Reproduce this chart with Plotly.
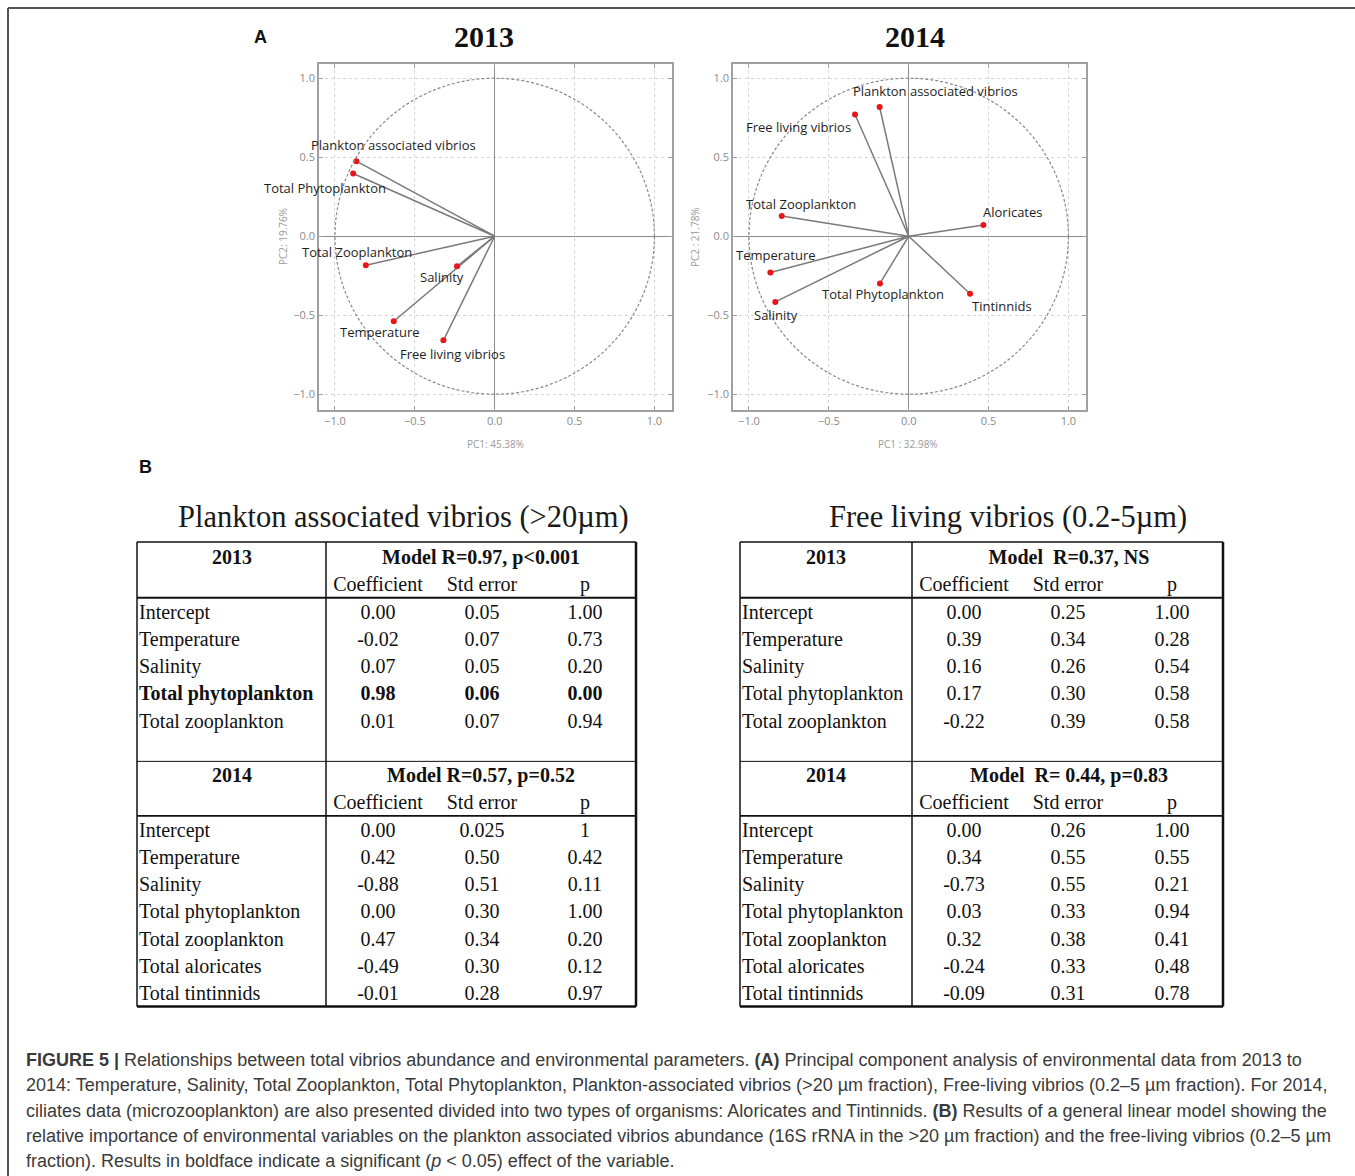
import plotly.graph_objects as go

W, H = 1355, 1176

# ---------------- data: PCA loadings (panel A) ----------------
pca_years = ["2013", "2014"]
pc1_titles = ["PC1: 45.38%", "PC1 : 32.98%"]
pc2_titles = ["PC2: 19.76%", "PC2 : 21.78%"]
pca_ticks = [-1.0, -0.5, 0.0, 0.5, 1.0]

pca13_vars = ["Plankton associated vibrios", "Total Phytoplankton", "Total Zooplankton",
              "Salinity", "Temperature", "Free living vibrios"]
pca13_pc1 = [-0.866, -0.886, -0.807, -0.236, -0.632, -0.321]
pca13_pc2 = [0.475, 0.397, -0.184, -0.190, -0.538, -0.659]

pca14_vars = ["Plankton associated vibrios", "Free living vibrios", "Total Zooplankton", "Aloricates",
              "Temperature", "Salinity", "Total Phytoplankton", "Tintinnids"]
pca14_pc1 = [-0.182, -0.336, -0.795, 0.468, -0.866, -0.835, -0.180, 0.384]
pca14_pc2 = [0.818, 0.770, 0.128, 0.071, -0.230, -0.416, -0.299, -0.364]

# ---------------- data: GLM tables (panel B) ----------------
tbl_cols = ["Coefficient", "Std error", "p"]
rows_2013 = ["Intercept", "Temperature", "Salinity", "Total phytoplankton", "Total zooplankton"]
rows_2014 = ["Intercept", "Temperature", "Salinity", "Total phytoplankton", "Total zooplankton",
             "Total aloricates", "Total tintinnids"]

pav_title = "Plankton associated vibrios (&gt;20µm)"
pav_model_2013 = "Model R=0.97, p&lt;0.001"
pav_coef_2013 = ["0.00", "-0.02", "0.07", "0.98", "0.01"]
pav_se_2013 = ["0.05", "0.07", "0.05", "0.06", "0.07"]
pav_p_2013 = ["1.00", "0.73", "0.20", "0.00", "0.94"]
pav_model_2014 = "Model R=0.57, p=0.52"
pav_coef_2014 = ["0.00", "0.42", "-0.88", "0.00", "0.47", "-0.49", "-0.01"]
pav_se_2014 = ["0.025", "0.50", "0.51", "0.30", "0.34", "0.30", "0.28"]
pav_p_2014 = ["1", "0.42", "0.11", "1.00", "0.20", "0.12", "0.97"]

flv_title = "Free living vibrios (0.2-5µm)"
flv_model_2013 = "Model  R=0.37, NS"
flv_coef_2013 = ["0.00", "0.39", "0.16", "0.17", "-0.22"]
flv_se_2013 = ["0.25", "0.34", "0.26", "0.30", "0.39"]
flv_p_2013 = ["1.00", "0.28", "0.54", "0.58", "0.58"]
flv_model_2014 = "Model  R= 0.44, p=0.83"
flv_coef_2014 = ["0.00", "0.34", "-0.73", "0.03", "0.32", "-0.24", "-0.09"]
flv_se_2014 = ["0.26", "0.55", "0.55", "0.33", "0.38", "0.33", "0.31"]
flv_p_2014 = ["1.00", "0.55", "0.21", "0.94", "0.41", "0.48", "0.78"]

caption_lines = [
    "<b>FIGURE 5 |</b> Relationships between total vibrios abundance and environmental parameters. <b>(A)</b> Principal component analysis of environmental data from 2013 to",
    "2014: Temperature, Salinity, Total Zooplankton, Total Phytoplankton, Plankton-associated vibrios (&gt;20 µm fraction), Free-living vibrios (0.2–5 µm fraction). For 2014,",
    "ciliates data (microzooplankton) are also presented divided into two types of organisms: Aloricates and Tintinnids. <b>(B)</b> Results of a general linear model showing the",
    "relative importance of environmental variables on the plankton associated vibrios abundance (16S rRNA in the &gt;20 µm fraction) and the free-living vibrios (0.2–5 µm",
    "fraction). Results in boldface indicate a significant (<i>p</i> &lt; 0.05) effect of the variable.",
]

# ---------------- layout helpers (pixel -> paper) ----------------
def px(x):
    return x / W

def py(y):
    return 1 - y / H

SERIF = "Liberation Serif, Times New Roman, serif"
SANS = "Liberation Sans, Arial, sans-serif"
LABEL_FONT = dict(family="Open Sans, sans-serif", size=13, color="#1e1e1e")

fig = go.Figure()
annotations = []
shapes = []

# ---------------- Panel A: PCA correlation circles ----------------
pca_panels = [
    dict(vars=pca13_vars, pc1=pca13_pc1, pc2=pca13_pc2, xa="x", ya="y",
         dom_x=(319, 672), dom_y=(64, 410), cx=495, title_x=484, ytitle_x=283,
         offsets=[(-47, 16), (-91, -15), (-66, 13), (-39, -11), (-56, -11), (-45, -14)]),
    dict(vars=pca14_vars, pc1=pca14_pc1, pc2=pca14_pc2, xa="x2", ya="y2",
         dom_x=(733, 1086), dom_y=(64, 410), cx=908, title_x=915, ytitle_x=695,
         offsets=[(-29, 16), (-111, -12), (-38, 12), (-2, 13), (-36, 18), (-23, -13), (-60, -11), (0, -12)]),
]

axis_style = dict(
    range=[-1.1, 1.11], tickvals=pca_ticks, tickformat=".1f",
    showgrid=True, gridcolor="#d4d4d4", griddash="dot", gridwidth=1,
    zeroline=True, zerolinecolor="#8c8c8c", zerolinewidth=1.2,
    showline=True, linecolor="#a0a0a0", linewidth=1.6, mirror="allticks",
    ticks="inside", ticklen=4, tickcolor="#a0a0a0",
    tickfont=dict(family="Open Sans, sans-serif", size=11, color="#8a8a8a"),
)

for i, p in enumerate(pca_panels):
    lx, ly = [], []
    for a, b in zip(p["pc1"], p["pc2"]):
        lx += [0, a, None]
        ly += [0, b, None]
    fig.add_trace(go.Scatter(x=lx, y=ly, mode="lines", line=dict(color="#7a7a7a", width=1.5),
                             xaxis=p["xa"], yaxis=p["ya"], hoverinfo="skip", showlegend=False))
    fig.add_trace(go.Scatter(x=p["pc1"], y=p["pc2"], mode="markers", text=p["vars"],
                             marker=dict(color="#e8151b", size=6),
                             xaxis=p["xa"], yaxis=p["ya"], showlegend=False))
    for name, a, b, (dx, dy) in zip(p["vars"], p["pc1"], p["pc2"], p["offsets"]):
        annotations.append(dict(x=a, y=b, xref=p["xa"], yref=p["ya"], text=name, showarrow=False,
                                xanchor="left", yanchor="middle", xshift=dx, yshift=dy, font=LABEL_FONT))
    shapes.append(dict(type="circle", xref=p["xa"], yref=p["ya"], x0=-1, y0=-1, x1=1, y1=1,
                       line=dict(color="#8a8a8a", width=1.2, dash="3px,2px"), layer="above"))
    annotations.append(dict(x=px(p["title_x"]), y=py(37), xref="paper", yref="paper", text=f"<b>{pca_years[i]}</b>",
                            showarrow=False, xanchor="center", yanchor="middle",
                            font=dict(family=SERIF, size=30, color="#111")))
    annotations.append(dict(x=px(p["cx"]), y=py(444), xref="paper", yref="paper", text=pc1_titles[i],
                            showarrow=False, xanchor="center", yanchor="middle",
                            font=dict(family="Open Sans, sans-serif", size=10, color="#9a9a9a")))
    annotations.append(dict(x=px(p["ytitle_x"]), y=py(237), xref="paper", yref="paper", text=pc2_titles[i],
                            showarrow=False, xanchor="center", yanchor="middle", textangle=-90,
                            font=dict(family="Open Sans, sans-serif", size=10, color="#9a9a9a")))
    xkey = "xaxis" if i == 0 else "xaxis2"
    ykey = "yaxis" if i == 0 else "yaxis2"
    fig.layout[xkey] = dict(axis_style, domain=[px(p["dom_x"][0]), px(p["dom_x"][1])], anchor=p["ya"])
    fig.layout[ykey] = dict(axis_style, range=[-1.1, 1.09],
                            domain=[py(p["dom_y"][1]), py(p["dom_y"][0])], anchor=p["xa"])

# ---------------- Panel B: tables ----------------
ROW0_PX = 557.0
ROW_PX = 27.25
TOP_R = -0.55
SPACER = 1
TEXT_DY = 0.08  # small vertical nudge of cell text

def table(ax_idx, x0, x1, xdiv, label_x, year_x, model_x, col_x, title, title_x, sections):
    xa, ya = f"x{ax_idx}", f"y{ax_idx}"
    r = 0
    lab_x, lab_y, lab_t = [], [], []
    c_x, c_y, c_t = [], [], []
    hlines = []
    for k, (year, model, rows, coef, se, pv) in enumerate(sections):
        if k > 0:
            hlines.append((r - 0.5, 1.0))
        c_x += [year_x, model_x]
        c_y += [r + TEXT_DY, r + TEXT_DY]
        c_t += [f"<b>{year}</b>", f"<b>{model}</b>"]
        for cx, cname in zip(col_x, tbl_cols):
            c_x.append(cx); c_y.append(r + 1 + TEXT_DY); c_t.append(cname)
        hlines.append((r + 1.5, 2.0 if k == 0 else 1.6))
        for j, name in enumerate(rows):
            rr = r + 2 + j + TEXT_DY
            sig = float(pv[j]) < 0.05
            wrap = (lambda s: f"<b>{s}</b>") if sig else (lambda s: s)
            lab_x.append(label_x); lab_y.append(rr); lab_t.append(wrap(name))
            for cx, val in zip(col_x, (coef[j], se[j], pv[j])):
                c_x.append(cx); c_y.append(rr); c_t.append(wrap(val))
        r = r + 2 + len(rows) + SPACER
    bottom_r = r - SPACER - 0.5
    fig.add_trace(go.Scatter(x=lab_x, y=lab_y, text=lab_t, mode="text", textposition="middle right",
                             textfont=dict(family=SERIF, size=20, color="#111"),
                             xaxis=xa, yaxis=ya, hoverinfo="skip", showlegend=False, cliponaxis=False))
    fig.add_trace(go.Scatter(x=c_x, y=c_y, text=c_t, mode="text", textposition="middle center",
                             textfont=dict(family=SERIF, size=20, color="#111"),
                             xaxis=xa, yaxis=ya, hoverinfo="skip", showlegend=False, cliponaxis=False))
    lc = "#111"
    shapes.append(dict(type="line", xref=xa, yref=ya, x0=x0, x1=x1, y0=TOP_R, y1=TOP_R, line=dict(color=lc, width=1.5)))
    shapes.append(dict(type="line", xref=xa, yref=ya, x0=x0, x1=x1, y0=bottom_r, y1=bottom_r, line=dict(color=lc, width=2.5)))
    shapes.append(dict(type="line", xref=xa, yref=ya, x0=x0, x1=x0, y0=TOP_R, y1=bottom_r, line=dict(color=lc, width=1.5)))
    shapes.append(dict(type="line", xref=xa, yref=ya, x0=x1, x1=x1, y0=TOP_R, y1=bottom_r, line=dict(color=lc, width=2.5)))
    shapes.append(dict(type="line", xref=xa, yref=ya, x0=xdiv, x1=xdiv, y0=TOP_R, y1=bottom_r, line=dict(color=lc, width=1.5)))
    for yy, wdt in hlines:
        shapes.append(dict(type="line", xref=xa, yref=ya, x0=x0, x1=x1, y0=yy, y1=yy, line=dict(color=lc, width=wdt)))
    pad_x, pad_r = 8, 0.4
    r_top, r_bot = TOP_R - pad_r, bottom_r + pad_r
    fig.layout[f"xaxis{ax_idx}"] = dict(visible=False, range=[x0 - pad_x, x1 + pad_x],
                                        domain=[px(x0 - pad_x), px(x1 + pad_x)], anchor=ya, fixedrange=True)
    fig.layout[f"yaxis{ax_idx}"] = dict(visible=False, range=[r_bot, r_top],
                                        domain=[py(ROW0_PX + r_bot * ROW_PX), py(ROW0_PX + r_top * ROW_PX)],
                                        anchor=xa, fixedrange=True)
    annotations.append(dict(x=px(title_x), y=py(517), xref="paper", yref="paper", text=title, showarrow=False,
                            xanchor="center", yanchor="middle", font=dict(family=SERIF, size=30.5, color="#1a1a1a")))

table(3, 137, 636, 326, 139, 232, 481, [378, 482, 585], pav_title, 403, [
    ("2013", pav_model_2013, rows_2013, pav_coef_2013, pav_se_2013, pav_p_2013),
    ("2014", pav_model_2014, rows_2014, pav_coef_2014, pav_se_2014, pav_p_2014),
])
table(4, 740, 1223, 912, 742, 826, 1069, [964, 1068, 1172], flv_title, 1008, [
    ("2013", flv_model_2013, rows_2013, flv_coef_2013, flv_se_2013, flv_p_2013),
    ("2014", flv_model_2014, rows_2014, flv_coef_2014, flv_se_2014, flv_p_2014),
])

# ---------------- panel letters, caption, frame ----------------
annotations.append(dict(x=px(260), y=py(37), xref="paper", yref="paper", text="<b>A</b>", showarrow=False,
                        xanchor="center", yanchor="middle", font=dict(family=SANS, size=18, color="#111")))
annotations.append(dict(x=px(145), y=py(467), xref="paper", yref="paper", text="<b>B</b>", showarrow=False,
                        xanchor="center", yanchor="middle", font=dict(family=SANS, size=18, color="#111")))
for k, line in enumerate(caption_lines):
    annotations.append(dict(x=px(24), y=py(1060 + k * 25.3), xref="paper", yref="paper", text=line,
                            showarrow=False, xanchor="left", yanchor="middle",
                            font=dict(family=SANS, size=18, color="#3a3a3a")))

shapes.append(dict(type="line", xref="paper", yref="paper", x0=px(8), x1=px(1360), y0=py(8), y1=py(8),
                   line=dict(color="#555", width=2)))
shapes.append(dict(type="line", xref="paper", yref="paper", x0=px(8), x1=px(8), y0=py(8), y1=py(1180),
                   line=dict(color="#555", width=2)))

fig.update_layout(width=W, height=H, margin=dict(l=0, r=0, t=0, b=0), autosize=False,
                  paper_bgcolor="white", plot_bgcolor="white", showlegend=False,
                  annotations=annotations, shapes=shapes)

fig.write_html("out.html", config={"displayModeBar": False},
               post_script="document.body.style.margin='0px';document.body.style.overflow='hidden';")
